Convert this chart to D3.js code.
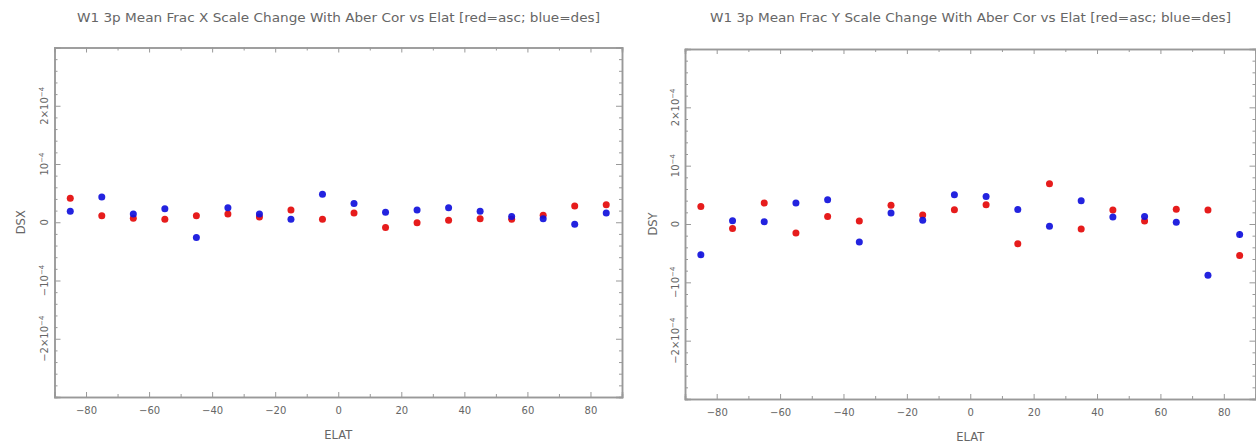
<!DOCTYPE html>
<html>
<head>
<meta charset="utf-8">
<script src="https://cdn.jsdelivr.net/npm/d3@7"></script>
<style>
  html, body { margin: 0; padding: 0; background: #fff; }
  svg { display: block; }
  text { font-family: "DejaVu Sans", sans-serif; fill: #666; }
</style>
</head>
<body>
<svg id="chart" width="1256" height="446"></svg>
<script>
// Ecliptic latitude bin centres
const elat = [-85, -75, -65, -55, -45, -35, -25, -15, -5, 5, 15, 25, 35, 45, 55, 65, 75, 85];

// Mean fractional X scale change (units of 1e-4)
const dsxAsc = [0.41, 0.11, 0.07, 0.05, 0.11, 0.14, 0.09, 0.21, 0.05, 0.16, -0.09, -0.01, 0.035, 0.06, 0.05, 0.12, 0.28, 0.30];
const dsxDes = [0.19, 0.435, 0.14, 0.23, -0.26, 0.25, 0.14, 0.05, 0.48, 0.32, 0.17, 0.21, 0.25, 0.19, 0.10, 0.06, -0.035, 0.16];

// Mean fractional Y scale change (units of 1e-4)
const dsyAsc = [0.30, -0.075, 0.36, -0.156, 0.127, 0.052, 0.32, 0.156, 0.245, 0.33, -0.34, 0.69, -0.087, 0.24, 0.052, 0.255, 0.24, -0.54];
const dsyDes = [-0.525, 0.057, 0.04, 0.36, 0.415, -0.31, 0.19, 0.064, 0.50, 0.47, 0.25, -0.04, 0.40, 0.12, 0.127, 0.03, -0.88, -0.18];

// Uncertainties shown only where visible (units of 1e-4)
const dsyAscErr = [0, 0, 0, 0, 0, 0, 0, 0, 0, 0, 0, 0, 0, 0, 0, 0, 0, 0.05];
const dsyDesErr = [0.05, 0, 0, 0, 0, 0, 0, 0, 0, 0, 0, 0, 0, 0, 0, 0, 0, 0.06];

const xTicks = [-80, -60, -40, -20, 0, 20, 40, 60, 80];
const yTicks = [-2, -1, 0, 1, 2];          // multiples of 1e-4
const xDomain = [-90, 90];
const yDomain = [-3, 3];

const panels = [
  { title: "W1 3p Mean Frac X Scale Change With Aber Cor vs Elat [red=asc; blue=des]",
    ylab: "DSX", asc: dsxAsc, des: dsxDes, ascErr: null, desErr: null,
    x0: 54.5, x1: 622, y0: 47.5, y1: 397, titleX0: 77, titleX1: 600, ylabX: 21, tickLabX: 44 },
  { title: "W1 3p Mean Frac Y Scale Change With Aber Cor vs Elat [red=asc; blue=des]",
    ylab: "DSY", asc: dsyAsc, des: dsyDes, ascErr: dsyAscErr, desErr: dsyDesErr,
    x0: 685, x1: 1255.5, y0: 49, y1: 399, titleX0: 710, titleX1: 1231, ylabX: 653, tickLabX: 675 }
];

const RED = "#e61c1c";
const BLUE = "#1010dc";
const AXIS = "#999";
const LABEL = "#888";

const svg = d3.select("#chart");

function yLabel(sel, v) {
  // IDL-style power-of-ten labels
  if (v === 0) { sel.text("0"); return; }
  const sign = v < 0 ? "\u2212" : "";
  const m = Math.abs(v);
  sel.append("tspan").text(sign + (m === 1 ? "" : m + "\u00d7") + "10");
  sel.append("tspan").attr("dy", -4).attr("font-size", 7).text("\u22124");
}

panels.forEach(p => {
  const g = svg.append("g");
  const x = d3.scaleLinear().domain(xDomain).range([p.x0, p.x1]);
  const y = d3.scaleLinear().domain(yDomain).range([p.y1, p.y0]);

  // title
  g.append("text")
    .attr("x", p.titleX0).attr("y", 22)
    .attr("textLength", p.titleX1 - p.titleX0)
    .attr("lengthAdjust", "spacingAndGlyphs")
    .attr("font-size", 12.5)
    .attr("fill", "#666")
    .text(p.title);

  // inward ticks via d3 axes (negative tick size points into the frame)
  const xMinor = d3.range(-80, 81, 10);
  const yMinor = d3.range(-3, 3.001, 0.2).map(v => +v.toFixed(1));

  const bottom = g.append("g").attr("transform", `translate(0,${p.y1})`)
    .call(d3.axisBottom(x).tickValues(xTicks).tickSize(-5).tickPadding(10).tickFormat(d => d === 0 ? "0" : (d < 0 ? "\u2212" + (-d) : d)));
  const bottomMinor = g.append("g").attr("transform", `translate(0,${p.y1})`)
    .call(d3.axisBottom(x).tickValues(xMinor.filter(v => v % 20 !== 0)).tickSize(-3).tickFormat(""));
  const top = g.append("g").attr("transform", `translate(0,${p.y0})`)
    .call(d3.axisTop(x).tickValues(xTicks).tickSize(-5).tickFormat(""));
  const topMinor = g.append("g").attr("transform", `translate(0,${p.y0})`)
    .call(d3.axisTop(x).tickValues(xMinor.filter(v => v % 20 !== 0)).tickSize(-3).tickFormat(""));
  const left = g.append("g").attr("transform", `translate(${p.x0},0)`)
    .call(d3.axisLeft(y).tickValues(yTicks).tickSize(-6).tickFormat(""));
  const leftMinor = g.append("g").attr("transform", `translate(${p.x0},0)`)
    .call(d3.axisLeft(y).tickValues(yMinor.filter(v => Math.abs(v - Math.round(v)) > 1e-6)).tickSize(-3).tickFormat(""));
  const right = g.append("g").attr("transform", `translate(${p.x1},0)`)
    .call(d3.axisRight(y).tickValues(yTicks).tickSize(-6).tickFormat(""));
  const rightMinor = g.append("g").attr("transform", `translate(${p.x1},0)`)
    .call(d3.axisRight(y).tickValues(yMinor.filter(v => Math.abs(v - Math.round(v)) > 1e-6)).tickSize(-3).tickFormat(""));

  [bottom, bottomMinor, top, topMinor, left, leftMinor, right, rightMinor].forEach(a => {
    a.select(".domain").attr("stroke", AXIS).attr("stroke-width", 1.5);
    a.selectAll(".tick line").attr("stroke", AXIS).attr("stroke-width", 1);
  });
  bottom.selectAll(".tick text")
    .attr("fill", LABEL).attr("font-size", 10)
    .style("font-family", "DejaVu Sans, sans-serif");

  // rotated y tick labels
  yTicks.forEach(v => {
    const t = g.append("text")
      .attr("transform", `translate(${p.tickLabX},${y(v)}) rotate(-90)`)
      .attr("text-anchor", "middle")
      .attr("dy", "0.35em")
      .attr("font-size", 10)
      .attr("fill", LABEL);
    yLabel(t, v);
  });

  // axis titles
  g.append("text")
    .attr("x", (p.x0 + p.x1) / 2).attr("y", p.y1 + 42)
    .attr("text-anchor", "middle").attr("font-size", 11.5).attr("fill", LABEL)
    .text("ELAT");
  g.append("text")
    .attr("transform", `translate(${p.ylabX},${y(0)}) rotate(-90)`)
    .attr("text-anchor", "middle").attr("dy", "0.35em")
    .attr("font-size", 11.5).attr("fill", LABEL)
    .text(p.ylab);

  // points: ascending (red) then descending (blue) drawn on top
  const series = [
    { vals: p.asc, err: p.ascErr, color: RED },
    { vals: p.des, err: p.desErr, color: BLUE }
  ];
  series.forEach(s => {
    if (s.err) {
      g.append("g").selectAll("line")
        .data(elat.map((e, i) => ({ e, v: s.vals[i], d: s.err[i] })).filter(d => d.d > 0))
        .join("line")
        .attr("x1", d => x(d.e)).attr("x2", d => x(d.e))
        .attr("y1", d => y(d.v - d.d)).attr("y2", d => y(d.v + d.d))
        .attr("stroke", s.color).attr("stroke-width", 1.2).attr("opacity", 0.7);
    }
    g.append("g").selectAll("circle")
      .data(elat.map((e, i) => ({ e, v: s.vals[i] })))
      .join("circle")
      .attr("cx", d => x(d.e))
      .attr("cy", d => y(d.v))
      .attr("r", 3.5)
      .attr("fill", s.color)
      .attr("fill-opacity", s.color === BLUE ? 0.92 : 1);
  });
});
</script>
</body>
</html>
